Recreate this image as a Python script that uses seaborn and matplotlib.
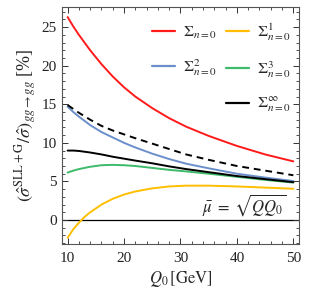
import numpy as np
import pandas as pd
import seaborn as sns
import matplotlib
matplotlib.use("Agg")
import matplotlib.pyplot as plt
from matplotlib.lines import Line2D
from matplotlib.ticker import MultipleLocator

# ---- data ----
q0 = [10, 11, 12, 13, 14, 16, 18, 20, 22, 25, 28, 31, 35, 40, 45, 50]
sum0 = [26.3, 25.1, 24.0, 23.0, 22.0, 20.2, 18.6, 17.2, 16.0, 14.5, 13.2, 12.1, 10.9, 9.6, 8.5, 7.6]
sum1 = [-2.3, -1.2, -0.35, 0.4, 1.0, 2.0, 2.75, 3.3, 3.7, 4.1, 4.35, 4.45, 4.45, 4.35, 4.2, 4.05]
sum2 = [14.7, 14.0, 13.4, 12.85, 12.3, 11.4, 10.7, 10.0, 9.4, 8.6, 7.9, 7.3, 6.7, 6.0, 5.5, 5.05]
sum3 = [6.15, 6.4, 6.6, 6.75, 6.9, 7.1, 7.15, 7.1, 7.0, 6.75, 6.5, 6.3, 6.0, 5.6, 5.2, 4.85]
suminf = [9.0, 9.0, 8.95, 8.85, 8.75, 8.5, 8.2, 7.95, 7.7, 7.35, 6.95, 6.6, 6.2, 5.7, 5.3, 4.9]
dashed = [14.9, 14.4, 13.9, 13.45, 13.0, 12.2, 11.6, 11.1, 10.6, 9.9, 9.2, 8.5, 7.8, 7.0, 6.4, 5.8]

labels = [r"$\Sigma_{n=0}$", r"$\Sigma_{n=0}^{1}$", r"$\Sigma_{n=0}^{2}$",
          r"$\Sigma_{n=0}^{3}$", r"$\Sigma_{n=0}^{\infty}$"]
colors = ["#ff1a1a", "#ffbf00", "#6b8fcb", "#3dbb6a", "#000000"]

sns.set_style("ticks")
plt.rcParams["font.family"] = ["Liberation Serif", "DejaVu Serif"]
plt.rcParams["mathtext.fontset"] = "stix"

fig = plt.figure(figsize=(3.09, 2.96), dpi=100)
ax = fig.add_axes([0.2006, 0.176, 0.767, 0.8])

series = [sum0, sum1, sum2, sum3, suminf]
handles = []
for vals, lab, col in zip(series, labels, colors):
    df = pd.DataFrame({"Q0": q0, "v": vals})
    sns.lineplot(data=df, x="Q0", y="v", ax=ax, color=col, lw=1.4, label=lab)
    handles.append(Line2D([], [], color=col, lw=1.6))

df = pd.DataFrame({"Q0": q0, "v": dashed})
sns.lineplot(data=df, x="Q0", y="v", ax=ax, color="black", lw=1.4, linestyle=(0, (3.5, 2.5)))

ax.axhline(0, color="black", lw=0.9, zorder=0)

ax.set_xlim(9, 51)
ax.set_ylim(-3.1, 27.6)
ax.xaxis.set_major_locator(MultipleLocator(10))
ax.xaxis.set_minor_locator(MultipleLocator(2))
ax.yaxis.set_major_locator(MultipleLocator(5))
ax.yaxis.set_minor_locator(MultipleLocator(1))
ax.tick_params(which="both", direction="in", top=True, right=True, labelsize=11,
               colors="#333333", labelcolor="#222222")
ax.tick_params(axis="x", which="major", pad=6)
ax.tick_params(which="major", length=4, width=0.7)
ax.tick_params(which="minor", length=2, width=0.6)
for s in ax.spines.values():
    s.set_color("#555555")
    s.set_linewidth(0.8)

ax.set_xlabel(r"$Q_0\,[\mathrm{GeV}]$", fontsize=12, labelpad=3)
ax.set_ylabel(r"$\left(\hat{\sigma}^{\mathrm{SLL+G}}/\hat{\sigma}\right)_{gg\to gg}$ [%]",
              fontsize=13, labelpad=2)

ax.text(41.3, 1.9, r"$\bar{\mu}\;=\;\sqrt{QQ_0}$", fontsize=12, ha="center", va="center")

blank = Line2D([], [], color="none")
h = [handles[0], handles[2], blank, handles[1], handles[3], handles[4]]
l = [labels[0], labels[2], "", labels[1], labels[3], labels[4]]
ax.legend(h, l, ncol=2, frameon=False, fontsize=11.5, loc="upper right",
          bbox_to_anchor=(1.025, 1.0), handlelength=1.4, handletextpad=0.5,
          columnspacing=0.6, labelspacing=1.0)

fig.savefig("out.png", dpi=100)
